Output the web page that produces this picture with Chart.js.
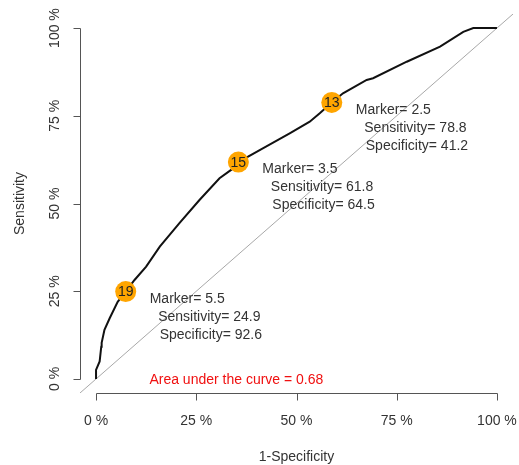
<!DOCTYPE html>
<html>
<head>
<meta charset="utf-8">
<script src="https://cdn.jsdelivr.net/npm/chart.js@4/dist/chart.umd.min.js"></script>
<style>
  html, body { margin: 0; padding: 0; background: #fff; overflow: hidden; }
  #wrap { width: 519px; height: 465px; }
</style>
</head>
<body>
<div id="wrap"><canvas id="roc"></canvas></div>
<script>
// ROC curve, values in percent
const fpr = [0, 0, 0.9, 1.3, 1.4, 2.1, 3.4, 5.4, 7.4, 9.6, 12.5, 15.9, 20.8, 25.8, 30.8, 34.2, 35.5,
  41.6, 48.3, 53.3, 55.8, 58.8, 61.6, 67.5, 69.1, 77.5, 85.8, 91.6, 94.1, 100];
const tpr = [0, 2.6, 5.0, 9.2, 10.3, 14.0, 17.3, 22.0, 24.9, 28.2, 32.0, 37.7, 44.4, 51.0, 57.2, 60.0, 61.8,
  65.7, 70.0, 73.3, 75.7, 78.8, 81.4, 85.2, 85.7, 90.4, 94.7, 98.9, 100, 100];

// highlighted cut-offs
const markerIds = [19, 15, 13];
const markerCut = [5.5, 3.5, 2.5];
const markerSens = [24.9, 61.8, 78.8];
const markerSpec = [92.6, 64.5, 41.2];

const tickVals = [0, 25, 50, 75, 100];
const aucLabel = "Area under the curve = 0.68";
const xTitle = "1-Specificity";
const yTitle = "Sensitivity";

const FONT = "14px 'Liberation Sans', Arial, sans-serif";
const TEXT = "#333";
const AXIS = "#555";

const curve = fpr.map((x, i) => ({ x: x, y: tpr[i] }));
const markers = markerIds.map((id, i) => ({ x: 100 - markerSpec[i], y: markerSens[i] }));

// R-style axes, labels and annotations
const rocDecor = {
  id: "rocDecor",
  afterDatasetsDraw(chart) {
    const ctx = chart.ctx;
    const xs = chart.scales.x, ys = chart.scales.y;
    const area = chart.chartArea;
    const left = Math.round(area.left) + 0.5;
    const bottom = Math.round(area.bottom) + 0.5;

    ctx.save();
    ctx.strokeStyle = AXIS;
    ctx.lineWidth = 1;
    ctx.font = FONT;
    ctx.fillStyle = TEXT;

    // y axis
    ctx.beginPath();
    ctx.moveTo(left, Math.round(ys.getPixelForValue(0)) + 0.5);
    ctx.lineTo(left, Math.round(ys.getPixelForValue(100)) + 0.5);
    tickVals.forEach(v => {
      const py = Math.round(ys.getPixelForValue(v)) + 0.5;
      ctx.moveTo(left, py);
      ctx.lineTo(left - 7, py);
    });
    // x axis
    ctx.moveTo(Math.round(xs.getPixelForValue(0)) + 0.5, bottom);
    ctx.lineTo(Math.round(xs.getPixelForValue(100)) + 0.5, bottom);
    tickVals.forEach(v => {
      const px = Math.round(xs.getPixelForValue(v)) + 0.5;
      ctx.moveTo(px, bottom);
      ctx.lineTo(px, bottom + 7);
    });
    ctx.stroke();

    ctx.textAlign = "center";
    ctx.textBaseline = "middle";
    tickVals.forEach(v => {
      ctx.fillText(v + " %", xs.getPixelForValue(v), 421);
      ctx.save();
      ctx.translate(55, ys.getPixelForValue(v));
      ctx.rotate(-Math.PI / 2);
      ctx.fillText(v + " %", 0, 0);
      ctx.restore();
    });

    // axis titles
    ctx.fillText(xTitle, (xs.getPixelForValue(0) + xs.getPixelForValue(100)) / 2, 457);
    ctx.save();
    ctx.translate(20, (ys.getPixelForValue(0) + ys.getPixelForValue(100)) / 2);
    ctx.rotate(-Math.PI / 2);
    ctx.fillText(yTitle, 0, 0);
    ctx.restore();

    // AUC
    ctx.fillStyle = "#f01010";
    ctx.fillText(aucLabel, xs.getPixelForValue(35), ys.getPixelForValue(-0.3));

    // marker numbers and cut-off notes
    const meta = chart.getDatasetMeta(2);
    meta.data.forEach((pt, i) => {
      ctx.fillStyle = "#222";
      ctx.textAlign = "center";
      ctx.fillText(String(markerIds[i]), pt.x, pt.y + 1);

      ctx.fillStyle = TEXT;
      ctx.textAlign = "left";
      ctx.fillText("Marker= " + markerCut[i], pt.x + 24, pt.y + 7.5);
      ctx.fillText("Sensitivity= " + markerSens[i], pt.x + 32.5, pt.y + 25.5);
      ctx.fillText("Specificity= " + markerSpec[i], pt.x + 34, pt.y + 43.5);
    });
    ctx.restore();
  }
};

new Chart(document.getElementById("roc"), {
  type: "scatter",
  data: {
    datasets: [
      {
        label: "chance",
        data: [{ x: -4, y: -4 }, { x: 104, y: 104 }],
        showLine: true,
        borderColor: "#a8a8a8",
        borderWidth: 1,
        pointRadius: 0,
        order: 3
      },
      {
        label: "ROC",
        data: curve,
        showLine: true,
        borderColor: "#111",
        borderWidth: 2,
        pointRadius: 0,
        tension: 0,
        order: 2
      },
      {
        label: "cut-offs",
        data: markers,
        showLine: false,
        pointRadius: 10.5,
        pointBackgroundColor: "#FFA500",
        pointBorderWidth: 0,
        order: 1
      }
    ]
  },
  options: {
    responsive: true,
    maintainAspectRatio: false,
    animation: false,
    layout: { autoPadding: false, padding: { left: 80, right: 6, top: 14, bottom: 72 } },
    plugins: {
      legend: { display: false },
      tooltip: { enabled: false }
    },
    scales: {
      x: { type: "linear", min: -4, max: 104, display: false },
      y: { type: "linear", min: -4, max: 104, display: false }
    }
  },
  plugins: [rocDecor]
});
</script>
</body>
</html>
